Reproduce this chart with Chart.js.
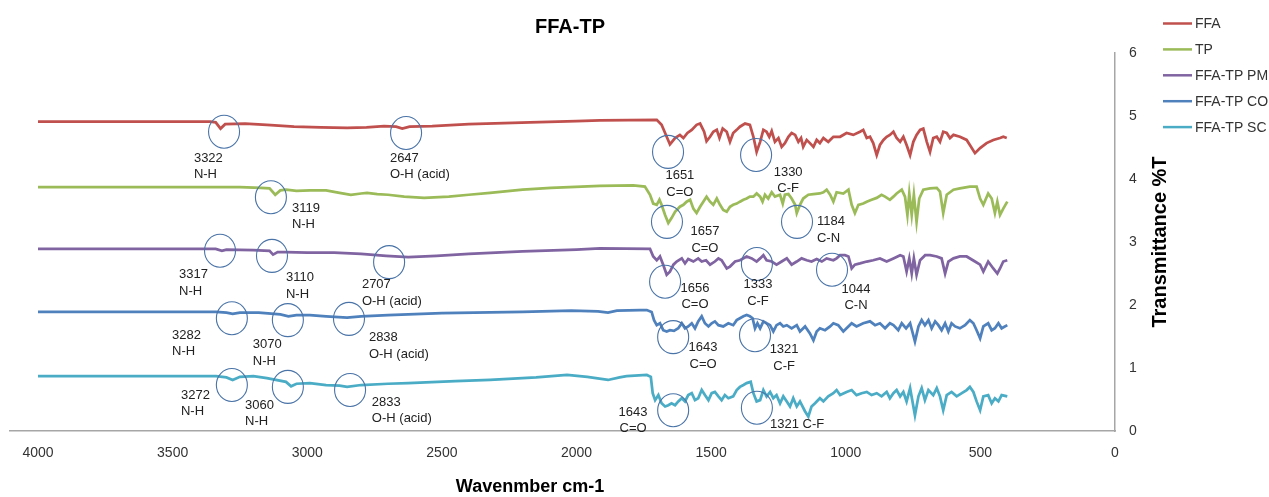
<!DOCTYPE html>
<html>
<head>
<meta charset="utf-8">
<title>FFA-TP</title>
<script src="https://cdn.jsdelivr.net/npm/chart.js@4.4.1/dist/chart.umd.min.js"></script>
<style>
  html, body { margin: 0; padding: 0; background: #fff; }
  canvas { display: block; }
</style>
</head>
<body>
<canvas id="ftirChart" width="1269" height="497"></canvas>
<script>
// axis ticks
const xTicks = [4000, 3500, 3000, 2500, 2000, 1500, 1000, 500, 0];
const yTicks = [0, 1, 2, 3, 4, 5, 6];

const seriesNames = ['FFA', 'TP', 'FFA-TP PM', 'FFA-TP CO', 'FFA-TP SC'];

// spectra: [wavenumber, transmittance (offset)]
const ffa = [[4000,4.91],[3600,4.91],[3360,4.91],[3340,4.90],[3322,4.80],[3305,4.87],[3231,4.88],[3150,4.86],[3049,4.83],[2950,4.82],[2852,4.81],[2780,4.82],[2715,4.84],[2670,4.83],[2647,4.80],[2620,4.83],[2536,4.84],[2400,4.87],[2172,4.90],[2000,4.92],[1913,4.93],[1702,4.94],[1684,4.86],[1665,4.67],[1653,4.55],[1634,4.65],[1616,4.70],[1603,4.65],[1588,4.73],[1572,4.78],[1554,4.86],[1541,4.88],[1526,4.75],[1517,4.60],[1504,4.67],[1492,4.75],[1479,4.78],[1469,4.65],[1457,4.80],[1442,4.75],[1430,4.59],[1418,4.73],[1405,4.78],[1393,4.83],[1374,4.88],[1356,4.86],[1343,4.67],[1331,4.43],[1318,4.59],[1306,4.78],[1294,4.75],[1284,4.67],[1275,4.76],[1263,4.59],[1250,4.65],[1238,4.51],[1226,4.57],[1213,4.67],[1201,4.73],[1188,4.70],[1176,4.59],[1166,4.65],[1158,4.51],[1145,4.62],[1133,4.57],[1120,4.51],[1108,4.62],[1096,4.57],[1083,4.65],[1065,4.59],[1046,4.67],[1021,4.67],[997,4.73],[972,4.70],[947,4.75],[935,4.78],[922,4.65],[910,4.67],[898,4.57],[885,4.38],[873,4.54],[860,4.62],[848,4.67],[836,4.70],[823,4.75],[811,4.65],[798,4.59],[786,4.67],[774,4.54],[761,4.38],[749,4.59],[737,4.70],[724,4.78],[712,4.80],[699,4.59],[687,4.43],[675,4.65],[662,4.67],[650,4.59],[638,4.75],[625,4.73],[613,4.65],[600,4.70],[576,4.67],[551,4.62],[539,4.54],[520,4.41],[501,4.49],[477,4.57],[452,4.62],[427,4.65],[415,4.67],[402,4.65]];

const tp = [[4000,3.87],[3600,3.87],[3250,3.87],[3172,3.86],[3140,3.85],[3119,3.75],[3100,3.82],[3079,3.83],[3040,3.81],[2990,3.82],[2930,3.82],[2880,3.78],[2838,3.75],[2800,3.77],[2778,3.78],[2740,3.76],[2700,3.75],[2640,3.72],[2566,3.70],[2474,3.72],[2400,3.75],[2321,3.78],[2200,3.83],[2095,3.86],[1913,3.89],[1789,3.90],[1746,3.88],[1727,3.75],[1715,3.61],[1702,3.59],[1692,3.67],[1684,3.59],[1671,3.43],[1659,3.30],[1647,3.38],[1634,3.48],[1616,3.56],[1603,3.59],[1591,3.64],[1578,3.67],[1566,3.53],[1554,3.46],[1541,3.56],[1529,3.64],[1517,3.72],[1504,3.64],[1492,3.59],[1479,3.69],[1467,3.59],[1455,3.51],[1442,3.48],[1430,3.56],[1418,3.59],[1405,3.61],[1393,3.64],[1380,3.67],[1368,3.69],[1356,3.72],[1343,3.72],[1331,3.77],[1318,3.72],[1309,3.64],[1300,3.75],[1288,3.69],[1275,3.79],[1263,3.72],[1244,3.75],[1234,3.61],[1226,3.75],[1213,3.76],[1201,3.69],[1188,3.59],[1182,3.46],[1170,3.59],[1158,3.69],[1139,3.75],[1120,3.76],[1096,3.77],[1083,3.79],[1071,3.83],[1058,3.75],[1046,3.64],[1034,3.79],[1009,3.77],[990,3.83],[978,3.59],[966,3.46],[953,3.59],[935,3.61],[922,3.64],[904,3.67],[885,3.70],[867,3.75],[854,3.72],[836,3.67],[823,3.72],[811,3.77],[792,3.83],[780,3.72],[771,3.43],[764,3.77],[755,3.43],[747,3.75],[737,3.32],[727,3.69],[712,3.83],[687,3.85],[662,3.86],[650,3.80],[638,3.46],[625,3.75],[600,3.83],[576,3.85],[539,3.88],[514,3.88],[501,3.69],[489,3.59],[471,3.77],[458,3.69],[446,3.46],[437,3.64],[427,3.43],[415,3.53],[400,3.64]];

const pm = [[4000,2.89],[3600,2.89],[3340,2.89],[3317,2.86],[3300,2.88],[3200,2.87],[3140,2.86],[3127,2.80],[3110,2.84],[3079,2.84],[3000,2.83],[2900,2.83],[2800,2.81],[2707,2.78],[2625,2.76],[2520,2.78],[2400,2.81],[2200,2.85],[2000,2.88],[1913,2.90],[1727,2.89],[1715,2.77],[1702,2.71],[1690,2.77],[1678,2.64],[1665,2.48],[1653,2.53],[1640,2.64],[1628,2.69],[1609,2.74],[1597,2.66],[1585,2.73],[1566,2.69],[1548,2.74],[1535,2.69],[1519,2.71],[1504,2.64],[1486,2.69],[1473,2.74],[1461,2.71],[1442,2.58],[1430,2.61],[1411,2.69],[1393,2.71],[1368,2.77],[1349,2.74],[1331,2.69],[1318,2.74],[1306,2.79],[1294,2.71],[1275,2.69],[1257,2.64],[1238,2.69],[1219,2.74],[1201,2.64],[1182,2.69],[1164,2.74],[1145,2.71],[1127,2.69],[1108,2.73],[1089,2.69],[1071,2.74],[1046,2.71],[1034,2.74],[1021,2.79],[1003,2.79],[990,2.77],[978,2.58],[966,2.64],[947,2.66],[922,2.69],[898,2.71],[873,2.74],[848,2.69],[823,2.74],[798,2.79],[786,2.77],[774,2.53],[764,2.74],[755,2.50],[747,2.74],[737,2.48],[724,2.71],[705,2.79],[687,2.79],[662,2.77],[644,2.74],[631,2.50],[619,2.69],[600,2.74],[576,2.77],[551,2.77],[520,2.69],[501,2.64],[489,2.53],[471,2.69],[452,2.58],[437,2.50],[427,2.58],[415,2.69],[400,2.71]];

const co = [[4000,1.89],[3600,1.89],[3339,1.89],[3300,1.88],[3277,1.86],[3250,1.88],[3180,1.88],[3100,1.85],[3070,1.82],[3040,1.84],[2990,1.84],[2930,1.82],[2852,1.80],[2800,1.82],[2700,1.84],[2500,1.87],[2200,1.89],[2020,1.91],[1920,1.90],[1883,1.88],[1850,1.91],[1764,1.92],[1739,1.92],[1721,1.89],[1712,1.76],[1702,1.68],[1690,1.71],[1678,1.60],[1665,1.58],[1653,1.60],[1638,1.59],[1622,1.63],[1609,1.71],[1597,1.63],[1585,1.66],[1572,1.71],[1560,1.63],[1548,1.74],[1535,1.82],[1523,1.71],[1510,1.66],[1498,1.71],[1486,1.74],[1473,1.68],[1455,1.66],[1436,1.71],[1418,1.68],[1405,1.76],[1393,1.79],[1380,1.82],[1368,1.84],[1356,1.82],[1346,1.79],[1337,1.63],[1328,1.71],[1318,1.63],[1306,1.74],[1294,1.71],[1281,1.68],[1269,1.58],[1257,1.68],[1244,1.71],[1232,1.66],[1219,1.68],[1201,1.63],[1182,1.68],[1170,1.58],[1151,1.66],[1133,1.55],[1120,1.44],[1108,1.58],[1096,1.63],[1077,1.60],[1058,1.66],[1046,1.71],[1028,1.68],[1009,1.58],[997,1.63],[978,1.71],[960,1.66],[935,1.71],[910,1.74],[891,1.68],[873,1.71],[854,1.63],[836,1.71],[823,1.68],[805,1.60],[792,1.71],[776,1.63],[761,1.71],[743,1.42],[730,1.66],[718,1.76],[706,1.68],[693,1.76],[681,1.63],[668,1.74],[656,1.68],[644,1.60],[631,1.71],[619,1.58],[607,1.71],[594,1.66],[576,1.63],[557,1.68],[539,1.76],[526,1.71],[514,1.60],[501,1.47],[489,1.66],[471,1.71],[458,1.60],[446,1.63],[433,1.71],[421,1.63],[400,1.68]];

const sc = [[4000,0.87],[3600,0.87],[3339,0.87],[3300,0.85],[3277,0.81],[3250,0.86],[3200,0.87],[3150,0.84],[3079,0.78],[3060,0.71],[3040,0.75],[2990,0.76],[2930,0.73],[2880,0.72],[2852,0.70],[2800,0.73],[2700,0.75],[2625,0.76],[2450,0.79],[2321,0.81],[2150,0.85],[2035,0.89],[1960,0.86],[1883,0.81],[1840,0.85],[1814,0.87],[1739,0.89],[1724,0.86],[1717,0.60],[1708,0.49],[1696,0.57],[1684,0.44],[1671,0.39],[1659,0.41],[1647,0.44],[1634,0.41],[1622,0.47],[1609,0.52],[1597,0.47],[1585,0.57],[1572,0.60],[1560,0.49],[1548,0.52],[1535,0.65],[1523,0.57],[1510,0.49],[1498,0.60],[1486,0.62],[1473,0.55],[1461,0.49],[1449,0.57],[1436,0.52],[1418,0.55],[1405,0.65],[1393,0.70],[1380,0.73],[1368,0.76],[1353,0.78],[1343,0.60],[1331,0.47],[1318,0.49],[1306,0.65],[1294,0.55],[1281,0.62],[1269,0.52],[1257,0.57],[1244,0.44],[1232,0.55],[1219,0.47],[1207,0.39],[1195,0.52],[1182,0.39],[1170,0.47],[1151,0.31],[1139,0.23],[1127,0.39],[1114,0.44],[1096,0.52],[1083,0.47],[1065,0.55],[1046,0.60],[1034,0.65],[1021,0.57],[997,0.62],[978,0.65],[960,0.57],[941,0.60],[922,0.62],[904,0.57],[885,0.60],[867,0.55],[848,0.62],[836,0.52],[823,0.60],[811,0.65],[798,0.55],[786,0.62],[774,0.47],[761,0.68],[743,0.25],[730,0.55],[718,0.68],[706,0.49],[693,0.65],[675,0.57],[662,0.68],[650,0.55],[638,0.33],[625,0.57],[607,0.62],[588,0.55],[569,0.60],[551,0.65],[539,0.70],[526,0.62],[514,0.47],[501,0.33],[489,0.55],[471,0.57],[458,0.44],[446,0.52],[433,0.47],[421,0.57],[400,0.55]];

const seriesData = [ffa, tp, pm, co, sc];
const seriesColors = ['#c0504d', '#9bbb59', '#8064a2', '#4f81bd', '#4bacc6'];

// peak markers (circle centre in wavenumber / %T units)
const peakCircles = [
  [3309, 4.75], [2633, 4.73], [1660, 4.43], [1333, 4.38],
  [3135, 3.71], [1664, 3.32], [1181, 3.32],
  [3324, 2.86], [3131, 2.78], [2696, 2.68], [1671, 2.37], [1330, 2.65], [1051, 2.56],
  [3280, 1.79], [3072, 1.76], [2845, 1.78], [1641, 1.49], [1337, 1.52],
  [3280, 0.73], [3072, 0.70], [2841, 0.65], [1641, 0.33], [1330, 0.37]
];

// peak labels: anchor wavenumber, %T of first line, text lines, alignment
const peakLabels = [
  { wn: 3421, t: 4.33, lines: ['3322', 'N-H'], align: 'left' },
  { wn: 2693, t: 4.33, lines: ['2647', 'O-H (acid)'], align: 'left' },
  { wn: 1616, t: 4.05, lines: ['1651', 'C=O'], align: 'center' },
  { wn: 1214, t: 4.11, lines: ['1330', 'C-F'], align: 'center' },
  { wn: 3057, t: 3.54, lines: ['3119', 'N-H'], align: 'left' },
  { wn: 1523, t: 3.16, lines: ['1657', 'C=O'], align: 'center' },
  { wn: 1107, t: 3.32, lines: ['1184', 'C-N'], align: 'left' },
  { wn: 3476, t: 2.48, lines: ['3317', 'N-H'], align: 'left' },
  { wn: 3079, t: 2.43, lines: ['3110', 'N-H'], align: 'left' },
  { wn: 2797, t: 2.32, lines: ['2707', 'O-H (acid)'], align: 'left' },
  { wn: 1560, t: 2.27, lines: ['1656', 'C=O'], align: 'center' },
  { wn: 1326, t: 2.32, lines: ['1333', 'C-F'], align: 'center' },
  { wn: 962, t: 2.25, lines: ['1044', 'C-N'], align: 'center' },
  { wn: 3502, t: 1.52, lines: ['3282', 'N-H'], align: 'left' },
  { wn: 3202, t: 1.37, lines: ['3070', 'N-H'], align: 'left' },
  { wn: 2771, t: 1.48, lines: ['2838', 'O-H (acid)'], align: 'left' },
  { wn: 1530, t: 1.32, lines: ['1643', 'C=O'], align: 'center' },
  { wn: 1229, t: 1.29, lines: ['1321', 'C-F'], align: 'center' },
  { wn: 3469, t: 0.57, lines: ['3272', 'N-H'], align: 'left' },
  { wn: 3231, t: 0.41, lines: ['3060', 'N-H'], align: 'left' },
  { wn: 2760, t: 0.46, lines: ['2833', 'O-H (acid)'], align: 'left' },
  { wn: 1790, t: 0.30, lines: ['1643', 'C=O'], align: 'center' },
  { wn: 1281, t: 0.10, lines: ['1321 C-F'], align: 'left' }
];

const FONT = '"Liberation Sans", Arial, sans-serif';

// circles, labels, titles and legend drawn on top of the chart
const decorPlugin = {
  id: 'decor',
  afterDatasetsDraw(chart) {
    const { ctx, scales: { x, y }, chartArea } = chart;
    ctx.save();

    // circles
    ctx.strokeStyle = '#4a74a8';
    ctx.lineWidth = 1.1;
    peakCircles.forEach(([wn, t]) => {
      ctx.beginPath();
      ctx.ellipse(x.getPixelForValue(wn), y.getPixelForValue(t), 15.5, 16.5, 0, 0, Math.PI * 2);
      ctx.stroke();
    });

    // labels
    ctx.fillStyle = '#222';
    ctx.font = '13px ' + FONT;
    ctx.textBaseline = 'middle';
    peakLabels.forEach(lbl => {
      ctx.textAlign = lbl.align;
      const px = x.getPixelForValue(lbl.wn);
      const py = y.getPixelForValue(lbl.t);
      lbl.lines.forEach((line, i) => ctx.fillText(line, px, py + i * 16.5));
    });

    // chart title
    ctx.fillStyle = '#000';
    ctx.textAlign = 'center';
    ctx.font = 'bold 20px ' + FONT;
    ctx.fillText('FFA-TP', 570, 27);

    // x axis title
    ctx.font = 'bold 18px ' + FONT;
    ctx.fillText('Wavenmber cm-1', 530, 487);

    // y axis title (reads bottom to top)
    ctx.save();
    ctx.translate(1160, (chartArea.top + chartArea.bottom) / 2);
    ctx.rotate(-Math.PI / 2);
    ctx.font = 'bold 20px ' + FONT;
    ctx.fillText('Transmittance %T', 0, 0);
    ctx.restore();

    // legend
    ctx.font = '14px ' + FONT;
    ctx.textAlign = 'left';
    ctx.lineWidth = 2.5;
    seriesNames.forEach((name, i) => {
      const ly = 23.5 + i * 25.9;
      ctx.strokeStyle = seriesColors[i];
      ctx.beginPath();
      ctx.moveTo(1163, ly);
      ctx.lineTo(1192, ly);
      ctx.stroke();
      ctx.fillStyle = '#333';
      ctx.fillText(name, 1195, ly + 1);
    });

    ctx.restore();
  }
};

const datasets = seriesData.map((pts, i) => ({
  label: seriesNames[i],
  data: pts.map(([wn, t]) => ({ x: wn, y: t })),
  borderColor: seriesColors[i],
  backgroundColor: seriesColors[i],
  borderWidth: 2.75,
  pointRadius: 0,
  showLine: true,
  tension: 0
}));

new Chart(document.getElementById('ftirChart'), {
  type: 'scatter',
  data: { datasets },
  options: {
    responsive: false,
    animation: false,
    devicePixelRatio: 1,
    layout: { padding: { left: 10, top: 53, right: 0, bottom: 0 } },
    plugins: {
      legend: { display: false },
      title: { display: false },
      tooltip: { enabled: false }
    },
    scales: {
      x: {
        type: 'linear',
        reverse: true,
        min: 0,
        max: 4104,
        afterBuildTicks: scale => { scale.ticks = xTicks.map(v => ({ value: v })); },
        afterFit: scale => { scale.height = 66; },
        grid: { display: false, drawTicks: false },
        border: { display: true, color: '#a6a6a6', width: 1.5 },
        ticks: { padding: 14, maxRotation: 0, autoSkip: false, color: '#333', font: { family: FONT, size: 14 }, callback: v => String(v) }
      },
      y: {
        type: 'linear',
        position: 'right',
        min: 0,
        max: 6,
        afterBuildTicks: scale => { scale.ticks = yTicks.map(v => ({ value: v })); },
        afterFit: scale => { scale.width = 154; },
        grid: { display: false, drawTicks: false },
        border: { display: true, color: '#a6a6a6', width: 1.5 },
        ticks: { padding: 14, color: '#333', font: { family: FONT, size: 14 }, callback: v => String(v) }
      }
    }
  },
  plugins: [decorPlugin]
});
</script>
</body>
</html>
